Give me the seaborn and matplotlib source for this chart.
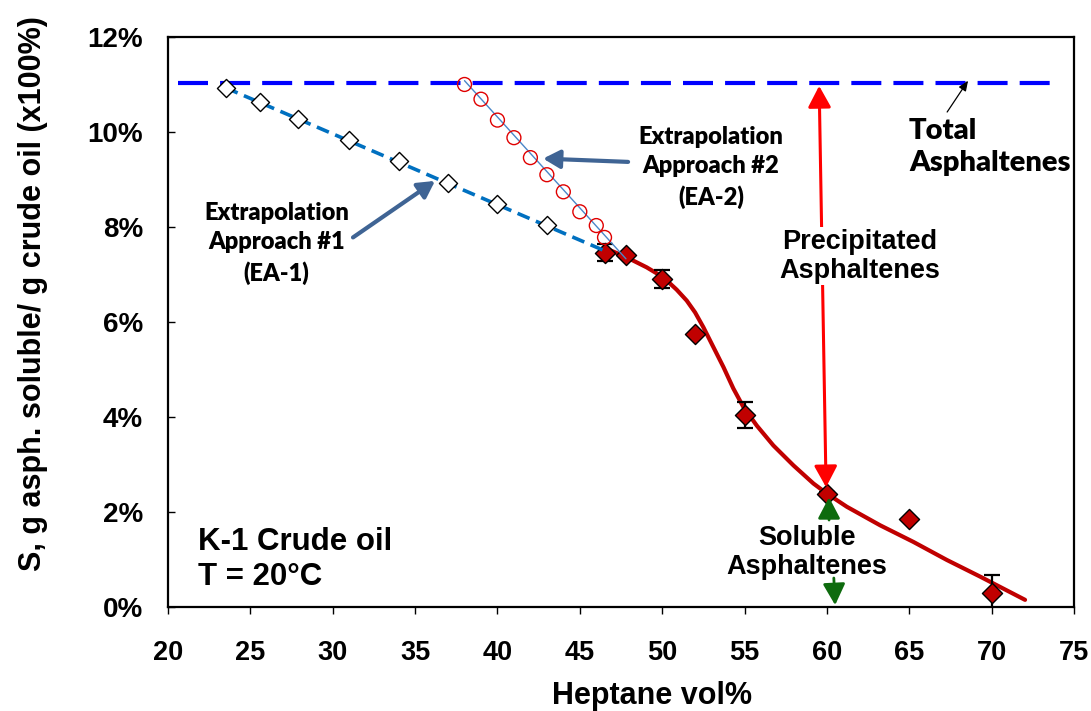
import matplotlib
matplotlib.use("Agg")
import matplotlib.pyplot as plt
import pandas as pd
import seaborn as sns

# Measured asphaltene solubility (wt% of crude) vs heptane content
heptane_exp = [46.5, 47.8, 50.0, 52.0, 55.0, 60.0, 65.0, 70.0]
soluble_exp = [7.46, 7.40, 6.90, 5.75, 4.04, 2.38, 1.85, 0.29]
soluble_err = [0.18, 0.0, 0.19, 0.0, 0.27, 0.05, 0.0, 0.38]

# Smooth fit through the measured solubility
fit_x = [46.64, 47.85, 49.06, 50.07, 50.88, 51.49, 52.0, 52.5, 53.11, 53.72,
         54.32, 54.93, 55.74, 56.75, 57.97, 59.18, 59.99, 61.21, 63.23, 65.25,
         67.28, 69.30, 72.03]
fit_y = [7.54, 7.36, 7.15, 6.94, 6.68, 6.45, 6.20, 5.89, 5.47, 5.05,
         4.60, 4.21, 3.82, 3.40, 2.98, 2.60, 2.39, 2.11, 1.72, 1.37,
         0.99, 0.64, 0.15]

# Extrapolation approach #1 (EA-1)
ea1_x = [23.5, 25.6, 27.9, 31.0, 34.0, 37.0, 40.0, 43.0]
ea1_y = [10.93, 10.63, 10.27, 9.83, 9.38, 8.93, 8.48, 8.04]
ea1_line_x = [23.5, 46.7]
ea1_line_y = [10.93, 7.47]

# Extrapolation approach #2 (EA-2)
ea2_x = [38.0, 39.0, 40.0, 41.0, 42.0, 43.0, 44.0, 45.0, 46.0, 46.5]
ea2_y = [11.0, 10.69, 10.25, 9.88, 9.46, 9.10, 8.74, 8.32, 8.03, 7.78]
ea2_line_x = [38.0, 47.8]
ea2_line_y = [11.08, 7.33]

# Total asphaltene content
total_x = [20.6, 73.7]
total_y = [11.03, 11.03]

x_ticks = [20, 25, 30, 35, 40, 45, 50, 55, 60, 65, 70, 75]
y_ticks = [0, 2, 4, 6, 8, 10, 12]

sns.set_theme(style="ticks")
plt.rcParams["font.family"] = ["Liberation Sans", "DejaVu Sans"]
plt.rcParams["font.weight"] = "bold"
plt.rcParams["text.color"] = "black"
plt.rcParams["axes.labelcolor"] = "black"
plt.rcParams["xtick.color"] = "black"
plt.rcParams["ytick.color"] = "black"

fig = plt.figure(figsize=(10.91, 7.11), dpi=100)
ax = fig.add_axes([0.154, 0.1463, 0.8304, 0.8017])

exp_df = pd.DataFrame({"x": heptane_exp, "y": soluble_exp})
fit_df = pd.DataFrame({"x": fit_x, "y": fit_y})

# fitted solubility curve
sns.lineplot(data=fit_df, x="x", y="y", ax=ax, color="#C00000", lw=3.0,
             errorbar=None, zorder=2)
ax.lines[-1].set_solid_joinstyle("round")

# measured points with error bars
ax.errorbar(heptane_exp, soluble_exp, yerr=soluble_err, fmt="none",
            ecolor="black", elinewidth=1.6, capsize=5.5, capthick=1.6, zorder=3)
sns.scatterplot(data=exp_df, x="x", y="y", ax=ax, marker="D", s=105,
                color="#C00000", edgecolor="black", linewidth=1.0, zorder=4)

# EA-1 extrapolation
sns.lineplot(x=ea1_line_x, y=ea1_line_y, ax=ax, color="#0070C0", lw=2.6,
             errorbar=None, zorder=5)
ax.lines[-1].set_dashes((3.6, 1.9))
sns.scatterplot(x=ea1_x, y=ea1_y, ax=ax, marker="D", s=85, color="white",
                edgecolor="black", linewidth=1.0, zorder=6)

# EA-2 extrapolation
sns.lineplot(x=ea2_line_x, y=ea2_line_y, ax=ax, color="#4A86C8", lw=1.0,
             errorbar=None, zorder=5)
sns.scatterplot(x=ea2_x, y=ea2_y, ax=ax, marker="o", s=100, facecolor="none",
                edgecolor="#E00000", linewidth=1.0, zorder=6)

# total asphaltene level
sns.lineplot(x=total_x, y=total_y, ax=ax, color="#0000FF", lw=3.0,
             errorbar=None, zorder=5)
ax.lines[-1].set_dashes((7.2, 2.9))

ax.set_xlim(20, 75)
ax.set_ylim(0, 12)
ax.set_xticks(x_ticks)
ax.set_yticks(y_ticks)
ax.set_xticklabels([str(v) for v in x_ticks])
ax.set_yticklabels([f"{v}%" for v in y_ticks])
ax.set_xlabel("")
ax.set_ylabel("")
for side in ["left", "right", "top", "bottom"]:
    ax.spines[side].set_visible(True)
    ax.spines[side].set_linewidth(1.6)
    ax.spines[side].set_color("black")
ax.tick_params(axis="x", direction="out", length=5, width=1.0, pad=18.5,
               labelsize=19.5, colors="black")
ax.tick_params(axis="y", direction="in", length=5, width=1.0, pad=18,
               labelsize=20, colors="black")
for lbl in ax.get_xticklabels() + ax.get_yticklabels():
    lbl.set_fontweight("bold")

fig.text(0.5973, 0.0098, "Heptane vol%", ha="center", va="baseline",
         fontsize=22, fontweight="bold")
fig.text(0.0298, 0.5865, "S, g asph. soluble/ g crude oil (x100%)",
         rotation=90, ha="center", va="center", fontsize=22, fontweight="bold")

calibri_like = ["Lato", "DejaVu Sans"]

# EA labels and pointers
ax.text(26.6, 7.65, "Extrapolation\nApproach #1\n(EA-1)", ha="center",
        va="center", fontsize=17, fontweight="heavy", family=calibri_like,
        linespacing=1.42, zorder=10)
ax.annotate("", xy=(36.21, 8.97), xytext=(31.23, 7.78),
            arrowprops=dict(arrowstyle="-|>,head_length=10,head_width=5.5",
                            mutation_scale=1, color="#3F6494", lw=3,
                            shrinkA=0, shrinkB=0), zorder=9)
ax.text(52.97, 9.25, "Extrapolation\nApproach #2\n(EA-2)", ha="center",
        va="center", fontsize=17, fontweight="heavy", family=calibri_like,
        linespacing=1.42, zorder=10)
ax.annotate("", xy=(42.77, 9.44), xytext=(47.93, 9.37),
            arrowprops=dict(arrowstyle="-|>,head_length=10,head_width=5.5",
                            mutation_scale=1, color="#3F6494", lw=3,
                            shrinkA=0, shrinkB=0), zorder=9)

# total asphaltenes label
ax.text(64.99, 9.68, "Total\nAsphaltenes", ha="left", va="center",
        fontsize=21, fontweight="heavy", family=calibri_like,
        linespacing=1.3, zorder=10)
ax.annotate("", xy=(68.57, 11.08), xytext=(67.3, 10.42),
            arrowprops=dict(arrowstyle="-|>,head_length=6,head_width=2.5",
                            mutation_scale=1, color="black", lw=0.9,
                            shrinkA=0, shrinkB=0), zorder=9)

# precipitated fraction: double arrow from the fit up to the total level
ax.annotate("", xy=(59.95, 2.52), xytext=(59.53, 10.97),
            arrowprops=dict(arrowstyle="<|-|>,head_length=13,head_width=7",
                            mutation_scale=1, color="#FF0000", lw=2.2,
                            shrinkA=0, shrinkB=0), zorder=8)
ax.text(62.02, 7.38, "Precipitated\nAsphaltenes", ha="center", va="center",
        fontsize=19.5, fontweight="bold", linespacing=1.17, zorder=10,
        bbox=dict(facecolor="white", edgecolor="none", pad=1))

# soluble fraction: arrows from the fit down to zero
ax.annotate("", xy=(60.13, 2.31), xytext=(60.13, 1.83),
            arrowprops=dict(arrowstyle="-|>,head_length=13,head_width=6.8",
                            mutation_scale=1, color="#0E6B0E", lw=2.0,
                            shrinkA=0, shrinkB=0), zorder=8)
ax.annotate("", xy=(60.5, 0.04), xytext=(60.42, 0.61),
            arrowprops=dict(arrowstyle="-|>,head_length=13,head_width=6.8",
                            mutation_scale=1, color="#0E6B0E", lw=2.0,
                            shrinkA=0, shrinkB=0), zorder=8)
ax.text(58.8, 1.145, "Soluble\nAsphaltenes", ha="center", va="center",
        fontsize=19.5, fontweight="bold", linespacing=1.15, zorder=10)

# sample information
ax.text(21.85, 1.0, "K-1 Crude oil\nT = 20\u00b0C", ha="left", va="center",
        fontsize=22.5, fontweight="bold", linespacing=1.2, zorder=10)

fig.savefig("out.png", dpi=100, facecolor="white")
